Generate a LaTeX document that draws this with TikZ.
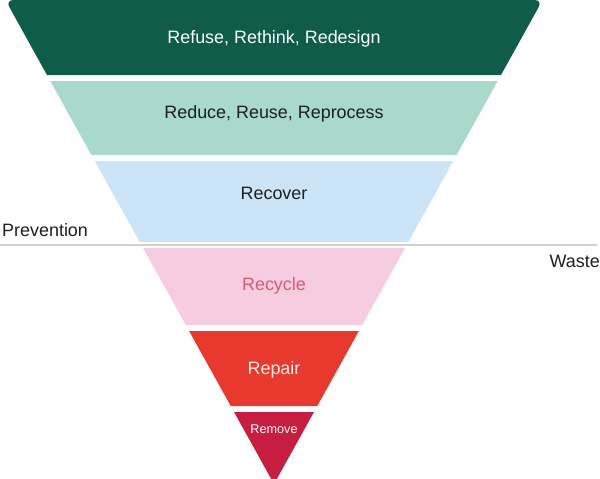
\documentclass[tikz,border=0pt]{standalone}
\usepackage{fontspec}
\setmainfont{Liberation Sans}
\usetikzlibrary{positioning}

\definecolor{verdeEscuro}{RGB}{14,92,73}
\definecolor{verdeClaro}{RGB}{169,217,203}
\definecolor{azulClaro}{RGB}{203,228,247}
\definecolor{rosaClaro}{RGB}{246,205,224}
\definecolor{vermelho}{RGB}{232,57,46}
\definecolor{carmim}{RGB}{199,30,63}
\definecolor{textoRosa}{RGB}{218,90,115}
\definecolor{textoEscuro}{RGB}{30,30,30}

\begin{document}
\begin{tikzpicture}[
    x=0.03cm,
    y=-0.03cm,
    every node/.style={font=\fontsize{15.3}{18}\selectfont, inner sep=0pt},
    camada/.style={
        draw=none
    },
    rotulo/.style={
        anchor=base,
        text=textoEscuro
    },
    divisor/.style={
        draw=black!18,
        line width=1.6pt
    }
]

\useasboundingbox (0,0) rectangle (600,478);

% ============================================================
% CAMADAS DA PIRAMIDE
% ============================================================

% Topo (cantos arredondados)
\fill[camada, verdeEscuro]
    (47,75) -- (26.2,37.5) [rounded corners=0.24cm] --
    (5.4,0) -- (274,0) -- (542.6,0) --
    (521.8,37.5) [sharp corners] -- (501,75) -- cycle;

\fill[camada, verdeClaro]
    (50.3,81) -- (497.7,81) -- (456.6,155) -- (91.4,155) -- cycle;

\fill[camada, azulClaro]
    (94.7,161) -- (453.3,161) -- (408.3,242) -- (139.7,242) -- cycle;

\fill[camada, rosaClaro]
    (143,248) -- (405,248) -- (362.2,325) -- (185.8,325) -- cycle;

\fill[camada, vermelho]
    (189.1,331) -- (358.9,331) -- (317.3,406) -- (230.7,406) -- cycle;

% Ponta (arredondada)
\fill[camada, carmim]
    (234,412) -- (314,412) -- (294,448) [rounded corners=0.18cm] --
    (274,484) -- (254,448) [sharp corners] -- cycle;

% ============================================================
% LINHA DIVISORIA
% ============================================================

\coordinate (divEsq) at (0,245);
\coordinate (divDir) at (597,245);

\draw[divisor] (divEsq) -- (divDir);

% ============================================================
% ROTULOS
% ============================================================

\node[
    rotulo,
    text=white
] (refuse) at (274,44)
{Refuse, Rethink, Redesign};

\node[
    rotulo
] (reduce) at (274,118)
{Reduce, Reuse, Reprocess};

\node[
    rotulo
] (recover) at (274,199)
{Recover};

\node[
    rotulo,
    text=textoRosa
] (recycle) at (274,290)
{Recycle};

\node[
    rotulo,
    text=red!8!white
] (repair) at (274,374)
{Repair};

\node[
    rotulo,
    text=white,
    font=\fontsize{10.8}{13}\selectfont
] (remove) at (274,433)
{Remove};

% Lados
\node[
    rotulo,
    anchor=base west
] (prevention) at (2,236)
{Prevention};

\node[
    rotulo,
    anchor=base east
] (waste) at (600,267)
{Waste};

\end{tikzpicture}
\end{document}
